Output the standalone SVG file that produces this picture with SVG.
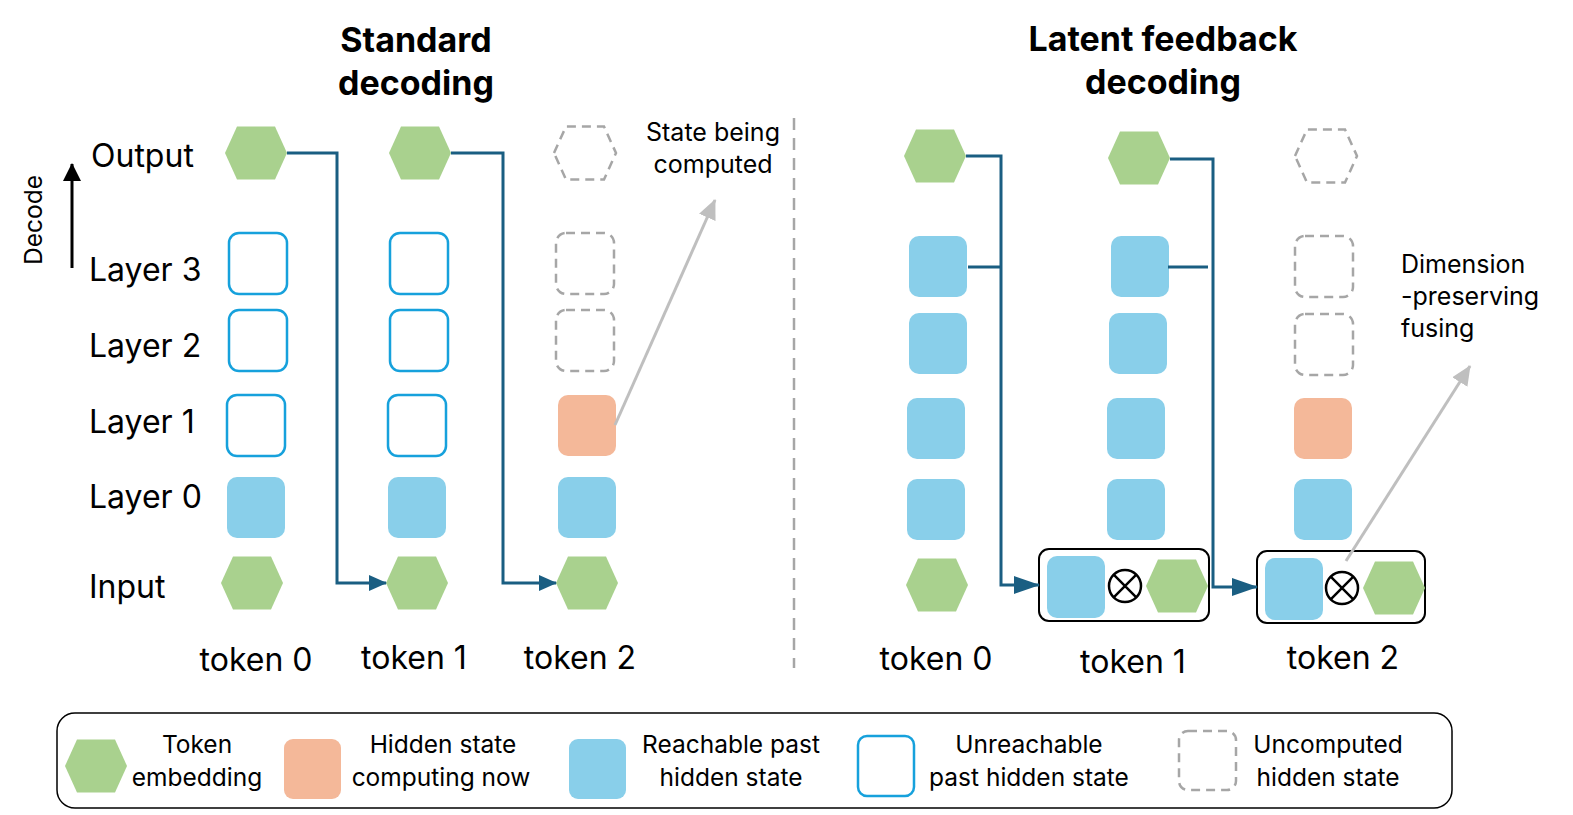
<svg xmlns="http://www.w3.org/2000/svg" xmlns:xlink="http://www.w3.org/1999/xlink" width="1573" height="815" viewBox="0 0 1573 815">
<style>
text{font-family:Inter,"Liberation Sans",Arial,sans-serif;fill:#000}
.title{font-size:34px;font-weight:bold;text-anchor:middle}
.row{font-size:32px}
.tok{font-size:32px;text-anchor:middle}
.note{font-size:25px}
.leg{font-size:24.5px;text-anchor:middle}
.green{fill:#A9D18E}
.dhex{fill:none;stroke:#A6A6A6;stroke-width:2.5;stroke-dasharray:9 6}
.reach{fill:#89CFEA}
.now{fill:#F4B899}
.unreach{fill:#fff;stroke:#16A1DC;stroke-width:2.5}
.uncomp{fill:none;stroke:#A6A6A6;stroke-width:2.5;stroke-dasharray:9 6}
.conn{fill:none;stroke:#1A5E82;stroke-width:3}
.gray{fill:none;stroke:#BFBFBF;stroke-width:3}
.fuse{fill:#fff;stroke:#000;stroke-width:2}
</style>
<defs>
<path id="hex" d="M-31,0 L-19,-26.5 L19,-26.5 L31,0 L19,26.5 L-19,26.5 Z"/>
<marker id="arrS" viewBox="0 0 18 16" refX="17" refY="8" markerWidth="18" markerHeight="16" markerUnits="userSpaceOnUse" orient="auto">
<path d="M0,0 L18,8 L0,16 Z" fill="#1A5E82"/>
</marker>
<marker id="arrL" viewBox="0 0 26 18" refX="25" refY="9" markerWidth="26" markerHeight="18" markerUnits="userSpaceOnUse" orient="auto">
<path d="M0,0 L26,9 L0,18 Z" fill="#1A5E82"/>
</marker>
<marker id="arrG" viewBox="0 0 20 18" refX="19" refY="9" markerWidth="20" markerHeight="18" markerUnits="userSpaceOnUse" orient="auto">
<path d="M0,0 L20,9 L0,18 Z" fill="#BFBFBF"/>
</marker>
<marker id="arrK" viewBox="0 0 18 18" refX="17" refY="9" markerWidth="18" markerHeight="18" markerUnits="userSpaceOnUse" orient="auto">
<path d="M0,0 L18,9 L0,18 Z" fill="#000"/>
</marker>
</defs>

<g id="titles">
<text class="title" x="416" y="52">Standard</text>
<text class="title" x="416" y="95">decoding</text>
<text class="title" x="1163" y="51">Latent feedback</text>
<text class="title" x="1163" y="94">decoding</text>
</g>

<g id="axis">
<line x1="72" y1="268" x2="72" y2="164" stroke="#000" stroke-width="3" marker-end="url(#arrK)"/>
<text x="0" y="0" font-size="24.5" text-anchor="middle" transform="translate(42,220) rotate(-90)">Decode</text>
<text class="row" x="91" y="167">Output</text>
<text class="row" x="89" y="281">Layer 3</text>
<text class="row" x="89" y="357">Layer 2</text>
<text class="row" x="89" y="433">Layer 1</text>
<text class="row" x="89" y="508">Layer 0</text>
<text class="row" x="89" y="598">Input</text>
</g>

<g id="std-token0">
<use href="#hex" class="green" transform="translate(256,153)"/>
<rect class="unreach" x="229" y="233" width="58" height="61" rx="10"/>
<rect class="unreach" x="229" y="310" width="58" height="61" rx="10"/>
<rect class="unreach" x="227" y="395" width="58" height="61" rx="10"/>
<rect class="reach" x="227" y="477" width="58" height="61" rx="10"/>
<use href="#hex" class="green" transform="translate(252,583)"/>
<text class="tok" x="256" y="671">token 0</text>
</g>

<g id="std-token1">
<use href="#hex" class="green" transform="translate(420,153)"/>
<rect class="unreach" x="390" y="233" width="58" height="61" rx="10"/>
<rect class="unreach" x="390" y="310" width="58" height="61" rx="10"/>
<rect class="unreach" x="388" y="395" width="58" height="61" rx="10"/>
<rect class="reach" x="388" y="477" width="58" height="61" rx="10"/>
<use href="#hex" class="green" transform="translate(417,583)"/>
<text class="tok" x="414" y="669">token 1</text>
</g>

<g id="std-token2">
<use href="#hex" class="dhex" transform="translate(585,153)"/>
<rect class="uncomp" x="556" y="233" width="58" height="61" rx="10"/>
<rect class="uncomp" x="556" y="310" width="58" height="61" rx="10"/>
<rect class="now" x="558" y="395" width="58" height="61" rx="10"/>
<rect class="reach" x="558" y="477" width="58" height="61" rx="10"/>
<use href="#hex" class="green" transform="translate(587,583)"/>
<text class="tok" x="580" y="669">token 2</text>
</g>

<g id="note-computed">
<text class="note" x="713" y="141" text-anchor="middle">State being</text>
<text class="note" x="713" y="173" text-anchor="middle">computed</text>
</g>

<g id="separator">
<line x1="794" y1="118" x2="794" y2="668" stroke="#A6A6A6" stroke-width="2.5" stroke-dasharray="12 8"/>
</g>

<g id="lat-token0">
<use href="#hex" class="green" transform="translate(935,156)"/>
<rect class="reach" x="909" y="236" width="58" height="61" rx="10"/>
<rect class="reach" x="909" y="313" width="58" height="61" rx="10"/>
<rect class="reach" x="907" y="398" width="58" height="61" rx="10"/>
<rect class="reach" x="907" y="479" width="58" height="61" rx="10"/>
<use href="#hex" class="green" transform="translate(937,585)"/>
<text class="tok" x="936" y="670">token 0</text>
</g>

<g id="lat-token1">
<use href="#hex" class="green" transform="translate(1139,158)"/>
<rect class="reach" x="1111" y="236" width="58" height="61" rx="10"/>
<rect class="reach" x="1109" y="313" width="58" height="61" rx="10"/>
<rect class="reach" x="1107" y="398" width="58" height="61" rx="10"/>
<rect class="reach" x="1107" y="479" width="58" height="61" rx="10"/>
<rect class="fuse" x="1039" y="549" width="170" height="72" rx="10"/>
<rect class="reach" x="1047" y="556" width="58" height="62" rx="10"/>
<g stroke="#000" stroke-width="2.5" fill="#fff">
<circle cx="1125" cy="586" r="16"/>
<path d="M1113.7,574.7 L1136.3,597.3 M1136.3,574.7 L1113.7,597.3"/>
</g>
<use href="#hex" class="green" transform="translate(1177,586)"/>
<text class="tok" x="1133" y="673">token 1</text>
</g>

<g id="lat-token2">
<use href="#hex" class="dhex" transform="translate(1326,156)"/>
<rect class="uncomp" x="1295" y="236" width="58" height="61" rx="10"/>
<rect class="uncomp" x="1295" y="314" width="58" height="61" rx="10"/>
<rect class="now" x="1294" y="398" width="58" height="61" rx="10"/>
<rect class="reach" x="1294" y="479" width="58" height="61" rx="10"/>
<rect class="fuse" x="1257" y="551" width="168" height="72" rx="10"/>
<rect class="reach" x="1265" y="558" width="58" height="62" rx="10"/>
<g stroke="#000" stroke-width="2.5" fill="#fff">
<circle cx="1342" cy="588" r="16"/>
<path d="M1330.7,576.7 L1353.3,599.3 M1353.3,576.7 L1330.7,599.3"/>
</g>
<use href="#hex" class="green" transform="translate(1394,588)"/>
<text class="tok" x="1343" y="669">token 2</text>
</g>

<g id="note-fusing">
<text class="note" x="1401" y="273">Dimension</text>
<text class="note" x="1401" y="305">-preserving</text>
<text class="note" x="1401" y="337">fusing</text>
</g>

<g id="connectors">
<path class="conn" d="M287,153 H337 V583 H386" marker-end="url(#arrS)"/>
<path class="conn" d="M451,153 H503 V583 H556" marker-end="url(#arrS)"/>
<path class="conn" d="M966,156 H1001 V585 H1039" marker-end="url(#arrL)"/>
<path class="conn" d="M968,267 H1001"/>
<path class="conn" d="M1170,159 H1213 V587 H1257" marker-end="url(#arrL)"/>
<path class="conn" d="M1168,267 H1208"/>
<path class="gray" d="M615,425 L715,200" marker-end="url(#arrG)"/>
<path class="gray" d="M1346,561 L1470,366" marker-end="url(#arrG)"/>
</g>

<g id="legend">
<rect x="57" y="713" width="1395" height="95" rx="18" fill="#fff" stroke="#000" stroke-width="1.5"/>
<use href="#hex" class="green" transform="translate(96,766)"/>
<text class="leg" x="197" y="753">Token</text>
<text class="leg" x="197" y="786">embedding</text>
<rect class="now" x="284" y="739" width="57" height="60" rx="9"/>
<text class="leg" x="443" y="753">Hidden state</text>
<text class="leg" x="441" y="786">computing now</text>
<rect class="reach" x="569" y="739" width="57" height="60" rx="9"/>
<text class="leg" x="731" y="753">Reachable past</text>
<text class="leg" x="731" y="786">hidden state</text>
<rect class="unreach" x="858" y="736" width="56" height="60" rx="9"/>
<text class="leg" x="1029" y="753">Unreachable</text>
<text class="leg" x="1029" y="786">past hidden state</text>
<rect class="uncomp" x="1179" y="731" width="57" height="59" rx="9"/>
<text class="leg" x="1328" y="753">Uncomputed</text>
<text class="leg" x="1328" y="786">hidden state</text>
</g>
</svg>
